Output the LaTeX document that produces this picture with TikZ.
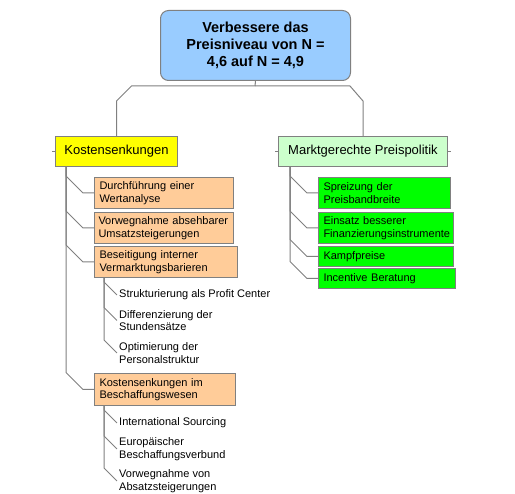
\documentclass[tikz,border=0pt]{standalone}
\usepackage{fontspec}
\setmainfont{Liberation Sans}
\usepackage{tikz}

\definecolor{linegray}{HTML}{808080}
\definecolor{topblue}{HTML}{99CCFF}
\definecolor{kostgelb}{HTML}{FFFF00}
\definecolor{marktgruen}{HTML}{CCFFCC}
\definecolor{teilorange}{HTML}{FFCC99}
\definecolor{teilgruen}{HTML}{00FF00}

\tikzset{
  conn/.style={draw=linegray, line width=1pt},
  zielbox/.style={draw=linegray, line width=1pt, fill=topblue, rounded corners=8pt,
    anchor=north west, minimum width=190pt, minimum height=70pt, align=center,
    inner sep=0pt, font=\bfseries\fontsize{14.5}{17}\selectfont},
  hauptbox/.style={draw=linegray, line width=1pt, anchor=north west, minimum height=30pt,
    inner sep=0pt, font=\fontsize{13}{15}\selectfont},
  teilbox/.style={draw=linegray, line width=1pt, anchor=north west, align=left,
    inner xsep=5pt, inner ysep=0pt, font=\fontsize{11}{12.5}\selectfont},
  punkt/.style={anchor=west, align=left, inner xsep=2pt, inner ysep=0pt,
    font=\fontsize{11}{12.5}\selectfont}
}

\begin{document}
\begin{tikzpicture}[x=1pt,y=-1pt]
		\useasboundingbox (0,0) rectangle (515,494);
		% oberstes Ziel
		\node[zielbox] (ziel) at (160,10) {Verbessere das\\Preisniveau von N =\\4,6 auf N = 4,9};
		\coordinate (bus) at (255,86);
		% zweite Ebene
		\node[hauptbox, fill=kostgelb, minimum width=122pt] (kosten) at (55,136) {Kostensenkungen};
		\node[hauptbox, fill=marktgruen, minimum width=169pt] (markt) at (278,136) {Marktgerechte Preispolitik};
		\draw[conn] (ziel.south) -- (bus);
		\draw[conn] (kosten.north) -- ++(0,-35) -- ++(15,-15) -- (bus);
		\draw[conn] (markt.north) -- ++(0,-35) -- ++(-13,-15) -- (bus);
		\draw[conn] (kosten.west) -- ++(-3,0);
		\draw[conn] (markt.west) -- ++(-3,0);
		\draw[conn] (markt.east) -- ++(3,0);
		% Kostensenkungen
		\node[teilbox, fill=teilorange, text width=129pt, minimum height=31pt] (d1) at (94,177) {Durchführung einer\\Wertanalyse};
		\node[teilbox, fill=teilorange, text width=131pt, inner xsep=4pt, minimum height=31pt] (d2) at (94,212) {Vorwegnahme absehbarer\\Umsatzsteigerungen};
		\node[teilbox, fill=teilorange, text width=133pt, minimum height=31pt] (d3) at (94,246) {Beseitigung interner\\Vermarktungsbarieren};
		\node[teilbox, fill=teilorange, text width=131pt, minimum height=32pt] (d4) at (94,373) {Kostensenkungen im\\Beschaffungswesen};
		\foreach \n in {d1,d2,d3,d4}
			\draw[conn] ([xshift=11pt]kosten.south west) |- ([xshift=-28pt,yshift=17pt]\n.west) -- ([xshift=-11pt]\n.west) -- (\n.west);
		% Vermarktungsbarieren
		\node[punkt] (g1) at (117,295) {Strukturierung als Profit Center};
		\node[punkt] (g2) at (117,320.5) {Differenzierung der\\Stundensätze};
		\node[punkt] (g3) at (117,353) {Optimierung der\\Personalstruktur};
		\foreach \n in {g1,g2,g3}
			\draw[conn] ([xshift=10pt]d3.south west) |- ([xshift=-13pt,yshift=13pt]\n.west) -- (\n.west);
		% Beschaffungswesen
		\node[punkt] (h1) at (117,423) {International Sourcing};
		\node[punkt] (h2) at (117,449) {Europäischer\\Beschaffungsverbund};
		\node[punkt] (h3) at (117,481) {Vorwegnahme von\\Absatzsteigerungen};
		\foreach \n in {h1,h2,h3}
			\draw[conn] ([xshift=10pt]d4.south west) |- ([xshift=-13pt,yshift=13pt]\n.west) -- (\n.west);
		% Preispolitik
		\node[teilbox, fill=teilgruen, text width=122pt, minimum height=31pt] (e1) at (318,177) {Spreizung der\\Preisbandbreite};
		\node[teilbox, fill=teilgruen, text width=125pt, minimum height=31pt] (e2) at (318,212) {Einsatz besserer\\Finanzierungsinstrumente};
		\node[teilbox, fill=teilgruen, text width=125pt, minimum height=20pt] (e3) at (318,246) {Kampfpreise};
		\node[teilbox, fill=teilgruen, text width=127pt, minimum height=20pt] (e4) at (318,268) {Incentive Beratung};
		\foreach \n in {e1,e2,e3,e4}
			\draw[conn] ([xshift=12pt]markt.south west) |- ([xshift=-28pt,yshift=17pt]\n.west) -- ([xshift=-11pt]\n.west) -- (\n.west);
	\end{tikzpicture}
\end{document}
